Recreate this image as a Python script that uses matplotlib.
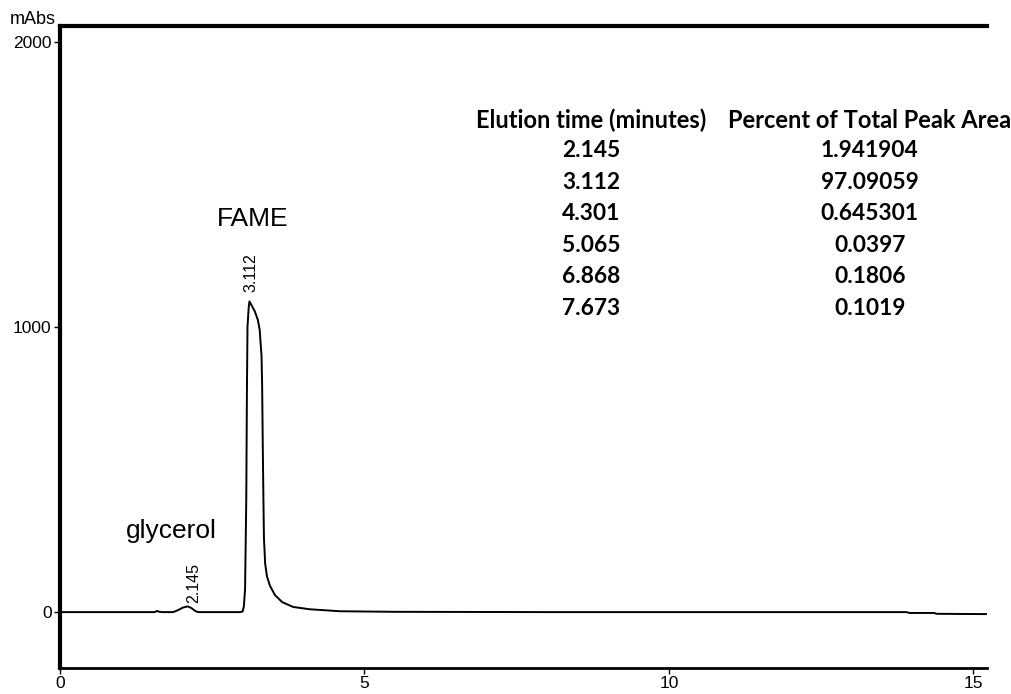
import matplotlib
matplotlib.use("Agg")
import matplotlib.pyplot as plt

# chromatogram trace, points (minutes, mAbs)
time_min = [0.0, 1.55, 1.60, 1.63, 1.68, 1.86, 1.95, 2.02, 2.10, 2.16, 2.22, 2.27,
            2.95, 3.00, 3.02, 3.04, 3.06, 3.07, 3.08, 3.10, 3.112, 3.15, 3.20,
            3.25, 3.28, 3.31, 3.32, 3.33, 3.34, 3.35, 3.37, 3.40, 3.45, 3.53,
            3.65, 3.83, 4.10, 4.60, 5.5, 8.0, 12.0, 13.9, 13.95, 14.35, 14.4, 15.22]
absorb = [0, 0, 4, 1, 0, 0, 8, 16, 20, 14, 4, 0,
          0, 2, 20, 80, 400, 760, 1000, 1070, 1090, 1075, 1055,
          1025, 990, 900, 800, 600, 420, 260, 170, 125, 92, 60,
          35, 18, 10, 3, 1, 0, 0, 0, -3, -3, -6, -7]

peak_times = ["2.145", "3.112", "4.301", "5.065", "6.868", "7.673"]
peak_area = ["1.941904", "97.09059", "0.645301", "0.0397", "0.1806", "0.1019"]

fig = plt.figure(figsize=(10.11, 6.94), dpi=100)
ax = fig.add_axes([0.0593, 0.0375, 0.9167, 0.925])

ax.plot(time_min, absorb, color="black", lw=1.4)

ax.set_xlim(0, 15.22)
ax.set_ylim(-196, 2056)
ax.set_xticks([0, 5, 10, 15])
ax.set_yticks([0, 1000, 2000])
ax.tick_params(direction="out", length=4, width=1, labelsize=12.5, pad=2)
for lbl in ax.get_xticklabels() + ax.get_yticklabels():
    lbl.set_family("Liberation Sans")

ax.spines["right"].set_visible(False)
ax.spines["left"].set_linewidth(3)
ax.spines["top"].set_linewidth(3)
ax.spines["bottom"].set_linewidth(2)

fig.text(0.01, 0.984, "mAbs", family="Liberation Sans", fontsize=13, va="top", ha="left")

# peak labels
ax.text(3.14, 1123, "3.112", rotation=90, ha="center", va="bottom",
        family="Liberation Sans", fontsize=11.5)
ax.text(2.2, 32, "2.145", rotation=90, ha="center", va="bottom",
        family="Liberation Sans", fontsize=11.5)
ax.text(2.58, 1355, "FAME", ha="left", va="baseline",
        family="Liberation Sans", fontsize=19)
ax.text(1.08, 260, "glycerol", ha="left", va="baseline",
        family="Liberation Sans", fontsize=19)

# table of peaks
col1, col2 = 8.72, 13.3
row_y = [1597, 1484, 1376, 1263, 1155, 1042]
ax.text(col1, 1698, "Elution time (minutes)", ha="center", va="baseline",
        family="Lato", weight="bold", fontsize=17)
ax.text(col2, 1698, "Percent of Total Peak Area", ha="center", va="baseline",
        family="Lato", weight="bold", fontsize=17, clip_on=False)
for t, a, y in zip(peak_times, peak_area, row_y):
    ax.text(col1, y, t, ha="center", va="baseline", family="Lato", weight="bold", fontsize=16.4)
    ax.text(col2, y, a, ha="center", va="baseline", family="Lato", weight="bold", fontsize=16.4)

fig.savefig("out.png", dpi=100)
